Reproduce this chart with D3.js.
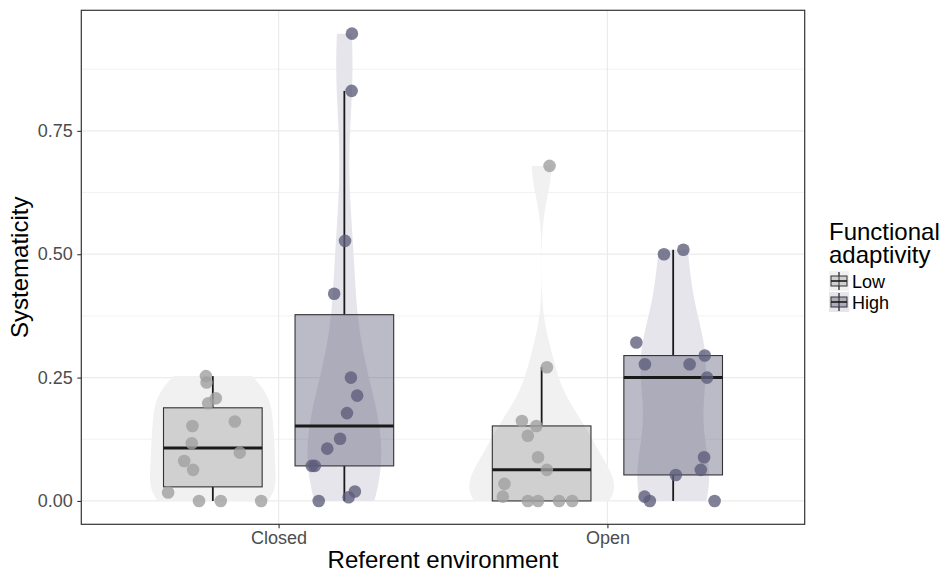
<!DOCTYPE html>
<html>
<head>
<meta charset="utf-8">
<script src="https://cdn.jsdelivr.net/npm/d3@7/dist/d3.min.js"></script>
<style>
  body { margin: 0; background: #fff; }
  svg text { font-family: "Liberation Sans", Arial, Helvetica, sans-serif; }
</style>
</head>
<body>
<svg id="chart" width="944" height="572"></svg>
<script>
// Data ////////////////////////////////////////////////////////////////////////////////////////////

var environments = ['Closed', 'Open'];                                    // x categories
var adaptivity = ['Low', 'High'];                                         // fill groups
var yTicks = [0, 0.25, 0.5, 0.75];

// systematicity per participant
var closedLow  = [0.253, 0.240, 0.208, 0.198, 0.152, 0.161, 0.117, 0.098, 0.081, 0.063, 0.017, 0, 0, 0];
var closedHigh = [0.947, 0.831, 0.527, 0.420, 0.250, 0.2135, 0.178, 0.126, 0.106, 0.071, 0.071, 0.019, 0.0075, 0];
var openLow    = [0.679, 0.271, 0.162, 0.152, 0.132, 0.0886, 0.063, 0.0345, 0.0087, 0, 0, 0, 0];
var openHigh   = [0.509, 0.500, 0.321, 0.2946, 0.277, 0.277, 0.25, 0.0886, 0.063, 0.0527, 0.0087, 0, 0];

// horizontal jitter of each point (in x category units), as it appears in the picture
var closedLowJitter  = [-0.021, -0.019, 0.009, -0.014, -0.062, 0.067, -0.064, 0.082, -0.087, -0.060, -0.136, -0.042, 0.024, 0.147];
var closedHighJitter = [0.023, 0.022, 0.002, -0.031, 0.020, 0.039, 0.008, -0.013, -0.052, -0.099, -0.090, 0.032, 0.013, -0.078];
var openLowJitter    = [0.024, 0.016, -0.060, -0.016, -0.042, -0.011, 0.016, -0.113, -0.118, -0.042, -0.011, 0.053, 0.093];
var openHighJitter   = [0.031, -0.028, -0.112, 0.096, -0.086, 0.050, 0.103, 0.094, 0.084, 0.008, -0.087, -0.071, 0.126];

var groups = [
  { env: 'Closed', level: 'Low',  values: closedLow,  jitter: closedLowJitter },
  { env: 'Closed', level: 'High', values: closedHigh, jitter: closedHighJitter },
  { env: 'Open',   level: 'Low',  values: openLow,    jitter: openLowJitter },
  { env: 'Open',   level: 'High', values: openHigh,   jitter: openHighJitter }
];

// Geometry and styles /////////////////////////////////////////////////////////////////////////////

var panel = { left: 81.3, top: 10.3, right: 804.7, bottom: 524.3 },
    dodge = 0.2,                                           // offset of each fill group from centre
    boxWidth = 0.3,
    violinWidth = 0.44,
    pointRadius = 6.3,
    font = '"Liberation Sans", Arial, Helvetica, sans-serif';

var colors = {
  violin: { Low: '#f1f1f1', High: '#e6e5eb' },
  box:    { Low: 'rgba(160,160,160,0.4)', High: 'rgba(92,92,122,0.42)' },
  point:  { Low: 'rgba(160,160,160,0.8)', High: 'rgba(92,92,122,0.78)' }
};

var svg = d3.select('#chart');

// Scales //////////////////////////////////////////////////////////////////////////////////////////

var allValues = d3.merge(groups.map(function(g) { return g.values }));
var yMin = d3.min(allValues), yMax = d3.max(allValues), yPad = (yMax - yMin) * 0.05;

var x = d3.scalePoint().domain(environments).range([panel.left, panel.right]).padding(0.6);
var unit = x.step();                                                 // pixels per category unit
var y = d3.scaleLinear().domain([yMin - yPad, yMax + yPad]).range([panel.bottom, panel.top]);
var offset = d3.scaleOrdinal().domain(adaptivity).range([-dodge, dodge]);

function centre(g) { return x(g.env) + offset(g.level) * unit }

// Panel grid //////////////////////////////////////////////////////////////////////////////////////

var minorTicks = d3.range(0.125, yMax + yPad, 0.25);
svg.append('g').selectAll('line').data(minorTicks).enter().append('line')
  .attr('x1', panel.left).attr('x2', panel.right)
  .attr('y1', function(d) { return y(d) }).attr('y2', function(d) { return y(d) })
  .style('stroke', '#f2f2f2').style('stroke-width', 1);
svg.append('g').selectAll('line').data(yTicks).enter().append('line')
  .attr('x1', panel.left).attr('x2', panel.right)
  .attr('y1', function(d) { return y(d) }).attr('y2', function(d) { return y(d) })
  .style('stroke', '#ebebeb').style('stroke-width', 1.2);
svg.append('g').selectAll('line').data(environments).enter().append('line')
  .attr('y1', panel.top).attr('y2', panel.bottom)
  .attr('x1', function(d) { return x(d) }).attr('x2', function(d) { return x(d) })
  .style('stroke', '#ebebeb').style('stroke-width', 1.2);

// Violins (gaussian kde, nrd0 bandwidth, trimmed, scale = area) ///////////////////////////////////

function nrd0(v) {
  var s = d3.deviation(v), sorted = v.slice().sort(d3.ascending),
      q = d3.quantile(sorted, 0.75) - d3.quantile(sorted, 0.25);
  var lo = Math.min(s, q / 1.34);
  if (!lo) lo = s || Math.abs(v[0]) || 1;
  return 0.9 * lo * Math.pow(v.length, -0.2);
}

groups.forEach(function(g) {
  var bw = nrd0(g.values), n = g.values.length,
      lo = d3.min(g.values), hi = d3.max(g.values);
  g.density = d3.range(512).map(function(i) {
    var t = lo + (hi - lo) * i / 511;
    var dens = d3.sum(g.values, function(v) {
      var z = (t - v) / bw; return Math.exp(-0.5 * z * z);
    }) / (n * bw * Math.sqrt(2 * Math.PI));
    return { y: t, d: dens };
  });
});
var maxDensity = d3.max(groups, function(g) { return d3.max(g.density, function(p) { return p.d }) });

var violinArea = d3.area().y(function(p) { return y(p.y) });

svg.append('g').attr('class', 'violins').selectAll('path').data(groups).enter().append('path')
  .attr('d', function(g) {
    var c = centre(g), half = violinWidth / 2 * unit;
    return violinArea
      .x0(function(p) { return c - p.d / maxDensity * half })
      .x1(function(p) { return c + p.d / maxDensity * half })(g.density);
  })
  .style('fill', function(g) { return colors.violin[g.level] })
  .style('stroke', 'none');

// Box plots ///////////////////////////////////////////////////////////////////////////////////////

groups.forEach(function(g) {
  var s = g.values.slice().sort(d3.ascending);
  var q1 = d3.quantile(s, 0.25), med = d3.quantile(s, 0.5), q3 = d3.quantile(s, 0.75), iqr = q3 - q1;
  g.stats = {
    q1: q1, med: med, q3: q3,
    lo: d3.min(s.filter(function(v) { return v >= q1 - 1.5 * iqr })),
    hi: d3.max(s.filter(function(v) { return v <= q3 + 1.5 * iqr }))
  };
});

var boxes = svg.append('g').attr('class', 'boxes').selectAll('g').data(groups).enter().append('g');
boxes.append('line')                                                          // upper whisker
  .attr('x1', centre).attr('x2', centre)
  .attr('y1', function(g) { return y(g.stats.q3) }).attr('y2', function(g) { return y(g.stats.hi) })
  .style('stroke', '#1a1a1a').style('stroke-width', 1.8);
boxes.append('line')                                                          // lower whisker
  .attr('x1', centre).attr('x2', centre)
  .attr('y1', function(g) { return y(g.stats.q1) }).attr('y2', function(g) { return y(g.stats.lo) })
  .style('stroke', '#1a1a1a').style('stroke-width', 1.8);
boxes.append('rect')
  .attr('x', function(g) { return centre(g) - boxWidth / 2 * unit })
  .attr('width', boxWidth * unit)
  .attr('y', function(g) { return y(g.stats.q3) })
  .attr('height', function(g) { return y(g.stats.q1) - y(g.stats.q3) })
  .style('fill', function(g) { return colors.box[g.level] })
  .style('stroke', '#333').style('stroke-width', 1.1);
boxes.append('line')                                                          // median
  .attr('x1', function(g) { return centre(g) - boxWidth / 2 * unit })
  .attr('x2', function(g) { return centre(g) + boxWidth / 2 * unit })
  .attr('y1', function(g) { return y(g.stats.med) }).attr('y2', function(g) { return y(g.stats.med) })
  .style('stroke', '#1a1a1a').style('stroke-width', 3);

// Jittered points /////////////////////////////////////////////////////////////////////////////////

svg.append('g').attr('class', 'points').selectAll('g').data(groups).enter().append('g')
  .each(function(g) {
    d3.select(this).selectAll('circle').data(g.values).enter().append('circle')
      .attr('cx', function(v, i) { return centre(g) + g.jitter[i] * unit })
      .attr('cy', function(v) { return y(v) })
      .attr('r', pointRadius)
      .style('fill', colors.point[g.level]);
  });

// Panel border and axes ///////////////////////////////////////////////////////////////////////////

svg.append('rect')
  .attr('x', panel.left).attr('y', panel.top)
  .attr('width', panel.right - panel.left).attr('height', panel.bottom - panel.top)
  .style('fill', 'none').style('stroke', '#333').style('stroke-width', 1.2);

var yAxis = svg.append('g').attr('transform', 'translate(' + panel.left + ',0)')
  .call(d3.axisLeft(y).tickValues(yTicks).tickFormat(d3.format('.2f')).tickSize(4).tickPadding(4.5));
var xAxis = svg.append('g').attr('transform', 'translate(0,' + panel.bottom + ')')
  .call(d3.axisBottom(x).tickSize(4).tickPadding(3));
[yAxis, xAxis].forEach(function(a) {
  a.select('.domain').remove();
  a.selectAll('.tick line').style('stroke', '#333').style('stroke-width', 1.1);
  a.selectAll('.tick text').style('font-family', font).style('font-size', '18px').style('fill', '#4d4d4d');
});

svg.append('text')
  .attr('transform', 'translate(28,' + (panel.top + panel.bottom) / 2 + ') rotate(-90)')
  .attr('text-anchor', 'middle').style('font-size', '24px').style('fill', '#000')
  .text('Systematicity');
svg.append('text')
  .attr('x', (panel.left + panel.right) / 2).attr('y', 568)
  .attr('text-anchor', 'middle').style('font-size', '24px').style('fill', '#000')
  .text('Referent environment');

// Legend //////////////////////////////////////////////////////////////////////////////////////////

var legend = svg.append('g').attr('transform', 'translate(829,0)');
legend.append('text').attr('y', 240).style('font-size', '24px').text('Functional');
legend.append('text').attr('y', 263).style('font-size', '24px').text('adaptivity');

var keys = legend.selectAll('g.key').data(adaptivity).enter().append('g').attr('class', 'key')
  .attr('transform', function(d, i) { return 'translate(0,' + (271 + i * 21) + ')' });
keys.append('rect').attr('width', 20).attr('height', 20)
  .style('fill', function(d) { return colors.violin[d] });
keys.append('line').attr('x1', 10).attr('x2', 10).attr('y1', 1).attr('y2', 19)
  .style('stroke', '#1a1a1a').style('stroke-width', 1.2);
keys.append('rect').attr('x', 2).attr('y', 5).attr('width', 16).attr('height', 10)
  .style('fill', function(d) { return colors.box[d] }).style('stroke', '#333').style('stroke-width', 1);
keys.append('line').attr('x1', 2).attr('x2', 18).attr('y1', 10).attr('y2', 10)
  .style('stroke', '#1a1a1a').style('stroke-width', 1.6);
keys.append('text').attr('x', 23).attr('y', 17).style('font-size', '18px').style('fill', '#000')
  .text(function(d) { return d });
</script>
</body>
</html>
